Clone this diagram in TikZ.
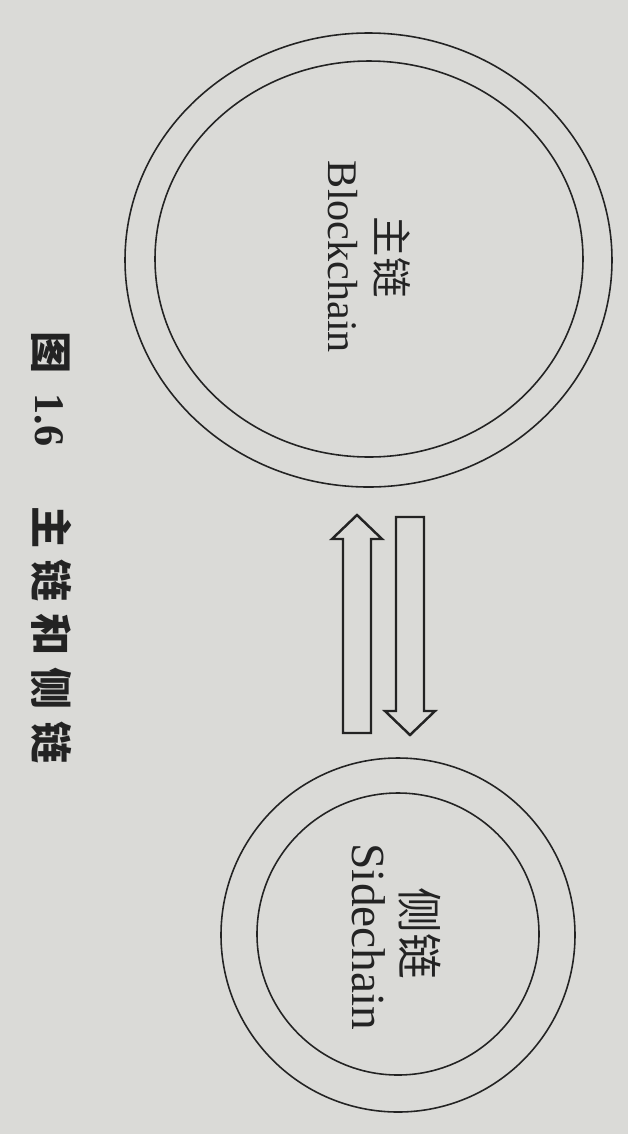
\documentclass[tikz,border=0pt]{standalone}
\usepackage{fontspec}
\setmainfont{Liberation Serif}
\newfontfamily\cjk{Noto Sans CJK SC}
\usepackage{tikz}
\usetikzlibrary{positioning}

\definecolor{paper}{RGB}{218,218,215}
\definecolor{ink}{RGB}{35,35,35}

\tikzset{
  chainline/.style={draw=ink, line width=0.9pt},
  flowarrow/.style={draw=ink, line width=1.4pt, line join=miter, fill=paper},
  chaintext/.style={rotate=-90, text=ink, inner sep=0pt},
}
\newcommand{\cjkgap}{\hspace{6.7pt}}

\begin{document}
\begin{tikzpicture}[x=0.02cm, y=-0.02cm]
    \fill[paper] (0,0) rectangle (628,1134);
    % main chain
    \draw[chainline] (368.5,260) ellipse [x radius=243.5, y radius=227];
    \draw[chainline] (369,259) ellipse [x radius=214, y radius=198];
    \node[chaintext, font=\cjk\fontsize{23}{28}\selectfont] (mainzh) at (392,257) {主链};
    \node[chaintext, font=\fontsize{24}{28}\selectfont] (mainen) at (343,257) {Blockchain};
    % side chain
    \draw[chainline] (398,935) circle (177);
    \draw[chainline] (398,934) circle (141);
    \node[chaintext, font=\cjk\fontsize{26}{30}\selectfont] (sidezh) at (420,933) {侧链};
    \node[chaintext, font=\fontsize{27}{30}\selectfont] (sideen) at (369,937) {Sidechain};
    % two-way transfer
    \draw[flowarrow] (396,517) -- (424,517) -- (424,711) -- (435,711) -- (410,735) -- (385,711) -- (396,711) -- cycle;
    \draw[flowarrow] (343,733) -- (371,733) -- (371,539) -- (382,539) -- (357,515) -- (332,539) -- (343,539) -- cycle;
    % caption
    \node[chaintext, anchor=west, font=\fontsize{24}{28}\selectfont] (caption) at (52,331)
      {{\cjk\bfseries 图}\hspace{11.4pt}{\bfseries 1.6}\hspace{34pt}{\cjk\bfseries 主\cjkgap 链\cjkgap 和\cjkgap 侧\cjkgap 链}};
\end{tikzpicture}
\end{document}
